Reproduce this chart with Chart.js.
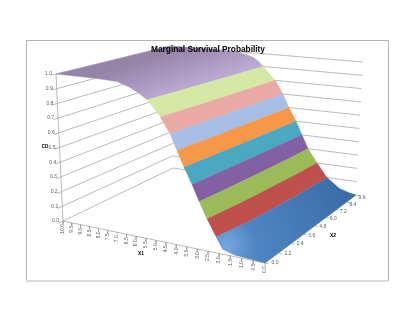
<!DOCTYPE html>
<html>
<head>
<meta charset="utf-8">
<script src="https://cdn.jsdelivr.net/npm/chart.js@4"></script>
<style>
    html, body { margin: 0; padding: 0; background: #fff; }
    canvas { display: block; filter: blur(0.3px); }
</style>
</head>
<body>
<canvas id="survival" width="415" height="321"></canvas>
<script>
const chartTitle = 'Marginal Survival Probability';
const x1Ticks = [10.0, 9.5, 9.0, 8.5, 8.0, 7.5, 7.0, 6.5, 6.0, 5.5, 5.0, 4.5, 4.0, 3.5, 3.0, 2.5, 2.0, 1.5, 1.0, 0.5, 0.0];
const x2Ticks = [0.0, 1.2, 2.4, 3.6, 4.8, 6.0, 7.2, 8.4, 9.6];
const zTicks = [0.0, 0.1, 0.2, 0.3, 0.4, 0.5, 0.6, 0.7, 0.8, 0.9, 1.0];

// surface: x1 where it crosses each height, at each x2 sample
const x2Samples = [0, 2.4, 4.8, 7.2, 9.6];
const surfaceZ = [1, 1, 0.995, 0.965, 0.935, 0.9, 0.8, 0.7, 0.6, 0.5, 0.4, 0.3, 0.2, 0.1, 0.03, 0.01, 0];
const crossTop = [10, 10, 10, 10, 10];
const cross100 = [7.73, 7.44, 7.18, 6.94, 6.71];
const cross995 = [6.75, 6.60, 6.40, 6.22, 6.08];
const cross965 = [6.12, 5.90, 5.70, 5.52, 5.36];
const cross935 = [5.71, 5.55, 5.40, 5.22, 5.06];
const cross90 = [5.32, 5.18, 5.05, 4.94, 4.83];
const cross80 = [4.70, 4.56, 4.43, 4.31, 4.20];
const cross70 = [4.25, 4.12, 3.99, 3.88, 3.78];
const cross60 = [3.93, 3.80, 3.67, 3.56, 3.46];
const cross50 = [3.61, 3.46, 3.32, 3.20, 3.08];
const cross40 = [3.24, 3.10, 2.98, 2.87, 2.76];
const cross30 = [2.91, 2.75, 2.62, 2.51, 2.43];
const cross20 = [2.55, 2.33, 2.17, 2.05, 1.96];
const cross10 = [2.14, 1.82, 1.64, 1.50, 1.44];
const cross03 = [1.84, 1.42, 1.15, 0.93, 0.80];
const cross01 = [1.30, 1.00, 0.75, 0.50, 0.35];
const crossEnd = [0, 0, 0, 0, 0];
const surfaceRows = [crossTop, cross100, cross995, cross965, cross935, cross90, cross80, cross70, cross60,
    cross50, cross40, cross30, cross20, cross10, cross03, cross01, crossEnd];

// first and last row of surfaceRows for each colour band, top to bottom
const bandRows = [[0, 5], [5, 6], [6, 7], [7, 8], [8, 9], [9, 10], [10, 11], [11, 12], [12, 13], [13, 16]];

// corners of the box on screen, bottom and top
const floorCorners = [[63, 221], [265, 263], [356, 195], [173, 168]];
const roofCorners = [[56, 74], [268, 98], [363, 62], [170, 46]];

// unit square to quad, corners in order (0,0) (1,0) (1,1) (0,1)
function square_to_quad(q) {
    const dx1 = q[1][0] - q[2][0], dx2 = q[3][0] - q[2][0], sx = q[0][0] - q[1][0] + q[2][0] - q[3][0];
    const dy1 = q[1][1] - q[2][1], dy2 = q[3][1] - q[2][1], sy = q[0][1] - q[1][1] + q[2][1] - q[3][1];
    const det = dx1 * dy2 - dx2 * dy1;
    const g = (sx * dy2 - dx2 * sy) / det;
    const h = (dx1 * sy - sx * dy1) / det;
    return (u, v) => {
        const w = g * u + h * v + 1;
        return [
            ((q[1][0] - q[0][0] + g * q[1][0]) * u + (q[3][0] - q[0][0] + h * q[3][0]) * v + q[0][0]) / w,
            ((q[1][1] - q[0][1] + g * q[1][1]) * u + (q[3][1] - q[0][1] + h * q[3][1]) * v + q[0][1]) / w
        ];
    };
}

const floorMap = square_to_quad(floorCorners);
const roofMap = square_to_quad(roofCorners);

function project(x1, x2, z) {
    const u = (10 - x1) / 10;
    const v = x2 / 9.6;
    const f = floorMap(u, v);
    const r = roofMap(u, v);
    return { x: f[0] + (r[0] - f[0]) * z, y: f[1] + (r[1] - f[1]) * z };
}

const gap = { x: NaN, y: NaN };

const canvas = document.getElementById('survival');
const ctx = canvas.getContext('2d');

const purpleFill = ctx.createLinearGradient(190, 44, 205, 88);
purpleFill.addColorStop(0, '#9583a8');
purpleFill.addColorStop(1, '#c0aed9');

const blueFill = ctx.createRadialGradient(226, 246, 3, 226, 246, 135);
blueFill.addColorStop(0, '#72a5df');
blueFill.addColorStop(0.2, '#4f85c4');
blueFill.addColorStop(1, '#3a6ca6');

const bandColors = [purpleFill, '#d5e8a6', '#eba9a6', '#a6bee6', '#f69848', '#4aa8c3', '#8260a3', '#9bbb59', '#c0504d', blueFill];
const bandEdges = ['#a794bd', '#d5e8a6', '#eba9a6', '#a6bee6', '#f69848', '#4aa8c3', '#8260a3', '#9bbb59', '#c0504d', '#4a7fbc'];

function band_points(first, last) {
    const pts = [];
    for (let r = first; r <= last; r++) pts.push(project(surfaceRows[r][0], 0, surfaceZ[r]));
    for (let s = 1; s < x2Samples.length; s++) pts.push(project(surfaceRows[last][s], x2Samples[s], surfaceZ[last]));
    for (let r = last - 1; r >= first; r--) pts.push(project(surfaceRows[r][4], 9.6, surfaceZ[r]));
    for (let s = x2Samples.length - 2; s >= 0; s--) pts.push(project(surfaceRows[first][s], x2Samples[s], surfaceZ[first]));
    return pts;
}

function line_set(points, color, width) {
    return {
        data: points,
        showLine: true,
        fill: false,
        borderColor: color,
        borderWidth: width,
        pointRadius: 0,
        spanGaps: false
    };
}

const paintOrder = [];

// walls
const wallLines = [];
zTicks.forEach(z => {
    wallLines.push(project(10, 0, z), project(10, 9.6, z), project(0, 9.6, z), gap);
});
paintOrder.push(line_set(wallLines, '#9c9c9c', 0.7));

// axes and tick marks
const axisMarks = [project(10, 0, 0), project(10, 0, 1), gap, project(10, 0, 0), project(0, 0, 0), project(0, 9.6, 0), gap];
zTicks.forEach(z => axisMarks.push(project(10, 0, z), project(10, -0.35, z), gap));
x1Ticks.forEach(x => axisMarks.push(project(x, 0, 0), project(x, 0, -0.02), gap));
x2Ticks.forEach(x => axisMarks.push(project(0, x, 0), project(-0.15, x, 0), gap));
paintOrder.push(line_set(axisMarks, '#9c9c9c', 0.7));

bandRows.forEach((rows, i) => {
    paintOrder.push({
        data: band_points(rows[0], rows[1]),
        showLine: true,
        fill: 'shape',
        backgroundColor: bandColors[i],
        borderColor: bandEdges[i],
        borderWidth: 0.4,
        pointRadius: 0
    });
});

const chartText = {
    id: 'chartText',
    beforeDatasetsDraw(chart) {
        const c = chart.ctx;
        c.save();
        c.strokeStyle = '#b4b4b4';
        c.lineWidth = 1;
        c.strokeRect(26.5, 40.5, 362, 240);
        c.strokeStyle = '#dcdcdc';
        c.lineWidth = 2;
        c.beginPath();
        c.moveTo(26, 281);
        c.lineTo(388, 281);
        c.stroke();
        c.restore();
    },
    afterDatasetsDraw(chart) {
        const c = chart.ctx;
        const sx = chart.scales.x;
        const sy = chart.scales.y;
        c.save();
        c.fillStyle = '#595959';
        c.font = '5px "Liberation Sans"';
        c.textBaseline = 'middle';

        c.textAlign = 'right';
        zTicks.forEach(z => {
            const p = project(10, 0, z);
            c.fillText(z.toFixed(1), sx.getPixelForValue(p.x) - 4, sy.getPixelForValue(p.y));
        });

        x1Ticks.forEach(x => {
            const p = project(x, 0, 0);
            c.save();
            c.translate(sx.getPixelForValue(p.x), sy.getPixelForValue(p.y) + 3);
            c.rotate(-Math.PI / 2);
            c.fillText(x.toFixed(1), 0, 0);
            c.restore();
        });

        c.textAlign = 'center';
        x2Ticks.forEach(x => {
            const p = project(0, x, 0);
            const v = x / 9.6;
            c.fillText(x.toFixed(1), sx.getPixelForValue(p.x) + 10 - 4 * v, sy.getPixelForValue(p.y) + 2.5 * v);
        });

        c.fillStyle = '#000';
        c.font = 'bold 5px "Liberation Sans"';
        c.fillText('X1', 141, 254);
        c.fillText('X2', 333, 236);
        c.font = 'bold 4.5px "Liberation Sans"';
        c.fillText('CD', 45, 147);

        c.font = 'bold 8.3px "Liberation Sans"';
        c.fillText(chartTitle, 208, 50);
        c.restore();
    }
};

new Chart(canvas, {
    type: 'scatter',
    data: { datasets: paintOrder.reverse() },
    options: {
        responsive: false,
        animation: false,
        layout: { padding: 0 },
        plugins: {
            legend: { display: false },
            tooltip: { enabled: false }
        },
        scales: {
            x: { type: 'linear', min: 0, max: 415, display: false },
            y: { type: 'linear', min: 0, max: 321, reverse: true, display: false }
        }
    },
    plugins: [chartText]
});
</script>
</body>
</html>
